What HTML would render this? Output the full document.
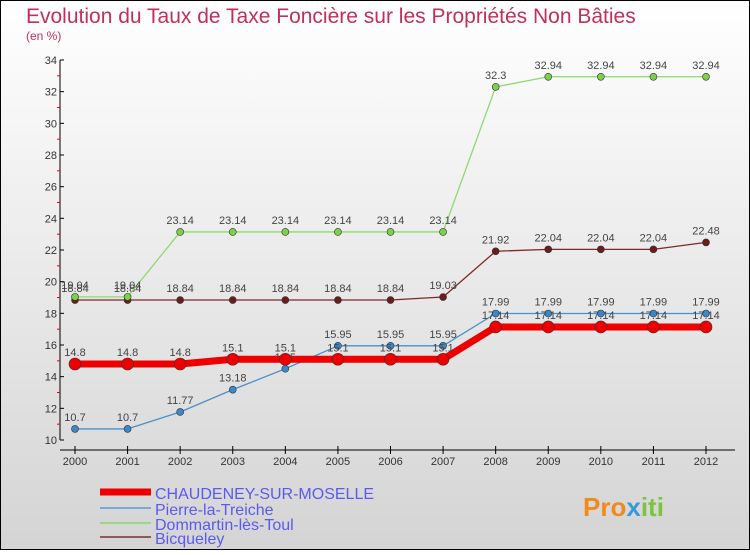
<!DOCTYPE html>
<html><head><meta charset="utf-8"><style>
html,body{margin:0;padding:0}
body{width:750px;height:550px;overflow:hidden;font-family:"Liberation Sans",sans-serif}
</style></head><body>
<svg width="750" height="550" xmlns="http://www.w3.org/2000/svg">
<defs><linearGradient id="bg" x1="0" y1="0" x2="0" y2="1"><stop offset="0" stop-color="#ffffff"/><stop offset="1" stop-color="#d4d4d4"/></linearGradient></defs>
<rect x="0.5" y="0.5" width="749" height="549" fill="url(#bg)" stroke="#000"/>
<text x="26" y="23" font-size="21" fill="#c0305a">Evolution du Taux de Taxe Foncière sur les Propriétés Non Bâties</text>
<text x="26" y="40" font-size="12" fill="#c0305a">(en %)</text>
<g id="axes"></g>
<g id="series"></g>
<g id="legend"></g>
<text x="583" y="516" font-size="26" font-weight="bold" fill="#f08a1c">Pro<tspan fill="#3a9ad9">x</tspan><tspan fill="#7cc440">iti</tspan></text>
</svg>
<script>
const years=[2000,2001,2002,2003,2004,2005,2006,2007,2008,2009,2010,2011,2012];
const yTicks=[10,12,14,16,18,20,22,24,26,28,30,32,34];
const chaudeney=[14.8,14.8,14.8,15.1,15.1,15.1,15.1,15.1,17.14,17.14,17.14,17.14,17.14];
const pierre=[10.7,10.7,11.77,13.18,14.5,15.95,15.95,15.95,17.99,17.99,17.99,17.99,17.99];
const dommartin=[19.04,19.04,23.14,23.14,23.14,23.14,23.14,23.14,32.3,32.94,32.94,32.94,32.94];
const bicqueley=[18.84,18.84,18.84,18.84,18.84,18.84,18.84,19.03,21.92,22.04,22.04,22.04,22.48];
const NS="http://www.w3.org/2000/svg";
function X(i){return 75+i*(706-75)/(years.length-1);}
function Y(v){return 440-(v-10)*(380/24);}
function mk(tag,attrs,parent){const e=document.createElementNS(NS,tag);for(const k in attrs)e.setAttribute(k,attrs[k]);parent.appendChild(e);return e;}
const axes=document.getElementById('axes');
let a=mk('line',{x1:60,y1:Y(34),x2:60,y2:440,stroke:'#000','stroke-width':1},axes);


a=mk('line',{x1:60,y1:450,x2:735,y2:450,stroke:'#000','stroke-width':1},axes);


yTicks.forEach(v=>{
 mk('line',{x1:60,y1:Y(v),x2:64,y2:Y(v),stroke:'#000'},axes);
 if(v<34){const m=mk('line',{x1:57,y1:Y(v+1),x2:60,y2:Y(v+1),stroke:'#e00'},axes);}
 const t=mk('text',{x:57,y:Y(v)+4,'font-size':11,'text-anchor':'end',fill:'#333'},axes);
 t.textContent=v;
 
 
});
years.forEach((y,i)=>{
 mk('line',{x1:X(i),y1:446,x2:X(i),y2:454,stroke:'#000'},axes);
 const t=mk('text',{x:X(i),y:465,'font-size':11,'text-anchor':'middle',fill:'#333'},axes);
 t.textContent=y;
 
 
});
const S=document.getElementById('series');
function fmt(v){return String(v).replace('.','.');}
function draw(data,color,w,r,name,dot){
 const g=mk('g',{},S);
 
 
 const p=mk('polyline',{points:data.map((v,i)=>X(i)+','+Y(v)).join(' '),fill:'none',stroke:color,'stroke-width':w,'stroke-linejoin':'round'},g);
 
 
 data.forEach((v,i)=>{
  const c=mk('circle',{cx:X(i),cy:Y(v),r:r,fill:dot,stroke:'#333','stroke-width':0.6},g);
  
  
  const t=mk('text',{x:X(i),y:Y(v)-8,'font-size':11,'text-anchor':'middle',fill:'#444'},g);
  t.textContent=fmt(v);
  
  
 });
}
draw(bicqueley,'#7a2a2a',1.3,3.5,'bicqueley','#6b1c1c');
draw(dommartin,'#8fd870',1.3,3.5,'dommartin','#7cd04a');
draw(pierre,'#4a90c8',1.3,3.5,'pierre-la-treiche','#3a88c8');
draw(chaudeney,'#ee0000',7,6,'chaudeney','#ee0000');
const L=document.getElementById('legend');
[['CHAUDENEY-SUR-MOSELLE','#ee0000',7,492],['Pierre-la-Treiche','#7aaad0',2,508],['Dommartin-lès-Toul','#98d880',2,523],['Bicqueley','#8b5a5a',2,537]].forEach(e=>{
 const l=mk('line',{x1:100,y1:e[3],x2:151,y2:e[3],stroke:e[1],'stroke-width':e[2]},L);
 
 
 const t=mk('text',{x:155,y:e[3]+7,'font-size':16,fill:'#5a5af0'},L);
 t.textContent=e[0];
 
 
});
</script>
</body></html>
